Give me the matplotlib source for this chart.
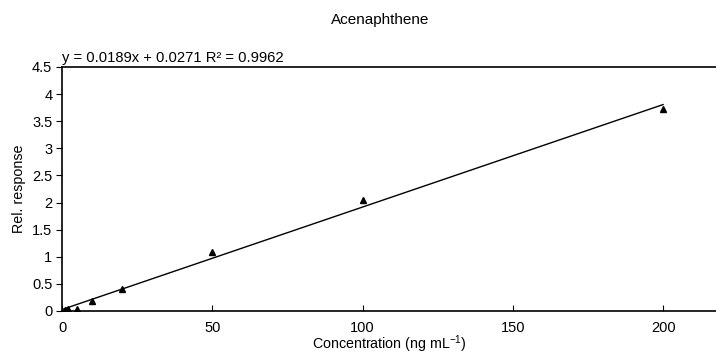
import matplotlib
matplotlib.use("Agg")
import matplotlib.pyplot as plt
import numpy as np

plt.rcParams['font.family'] = ['Liberation Sans', 'DejaVu Sans']
plt.rcParams['mathtext.fontset'] = 'custom'
plt.rcParams['mathtext.rm'] = 'Liberation Sans'
plt.rcParams['mathtext.it'] = 'Liberation Sans:italic'
plt.rcParams['mathtext.default'] = 'regular'

conc = [1, 2, 5, 10, 20, 50, 100, 200]
resp = [0.01, 0.03, 0.04, 0.19, 0.40, 1.09, 2.04, 3.72]
slope = 0.0189
intercept = 0.0271
fit_x = [0, 200]
title = "Acenaphthene"
eq_text = "y = 0.0189x + 0.0271 R² = 0.9962"
xticks = [0, 50, 100, 150, 200]
yticks = [0, 0.5, 1, 1.5, 2, 2.5, 3, 3.5, 4, 4.5]

fig = plt.figure(figsize=(7.16, 3.56), dpi=100)
ax = fig.add_axes([62/716, 1-311/356, (716-62)/716, (311-67)/356])

fx = np.array(fit_x, dtype=float)
ax.plot(fx, slope*fx + intercept, color='black', lw=1.0)
ax.plot(conc, resp, linestyle='none', marker='^', color='black', markersize=5)

ax.set_xlim(0, 217.6)
ax.set_ylim(0, 4.5)
ax.set_xticks(xticks)
ax.set_xticklabels([str(t) for t in xticks])
ax.set_yticks(yticks)
ax.set_yticklabels([('%g' % t) for t in yticks])
ax.tick_params(axis='x', direction='in', length=4, labelsize=10.5, pad=7)
ax.tick_params(axis='y', direction='out', length=4, labelsize=10.5, pad=3)
ax.spines['right'].set_visible(False)
for s in ['left', 'bottom', 'top']:
    ax.spines[s].set_linewidth(1.2)
    ax.spines[s].set_color('black')

ax.set_xlabel("Concentration (ng mL$^{-1}$)", fontsize=10.3, labelpad=-1)
ax.set_ylabel("Rel. response", fontsize=10.3, labelpad=4)
fig.text(380/716, 1-20/356, title, ha='center', va='center', fontsize=11)
ax.text(0.0, 1.01, eq_text, transform=ax.transAxes, ha='left', va='bottom', fontsize=10.6)

fig.savefig("out.png", dpi=100)
